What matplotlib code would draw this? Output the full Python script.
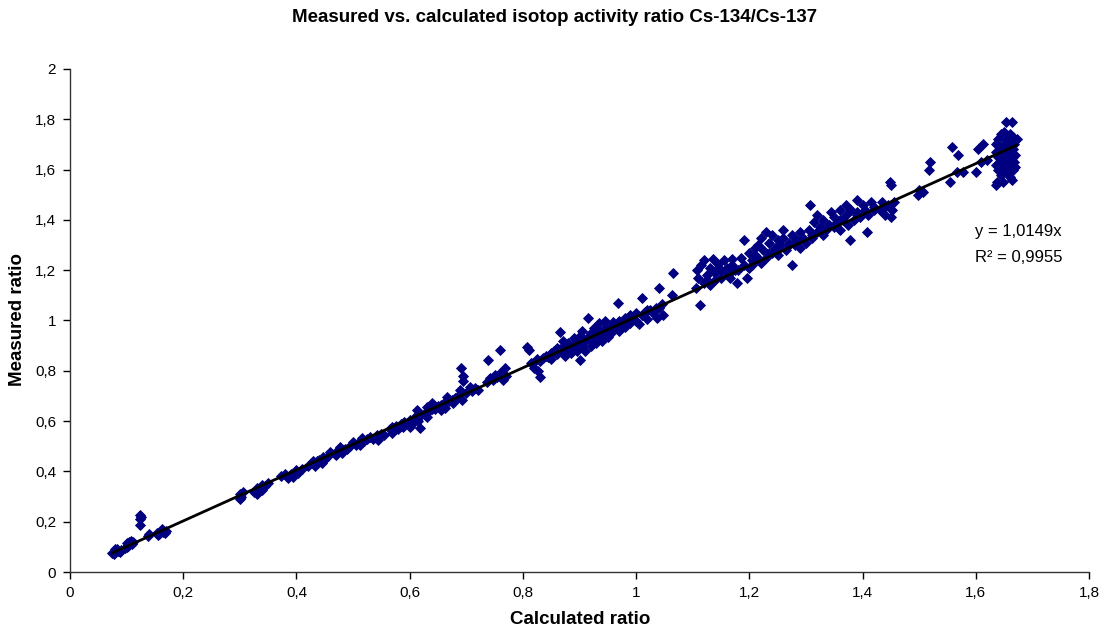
import matplotlib
matplotlib.use("Agg")
import matplotlib.pyplot as plt
from matplotlib.ticker import MultipleLocator, FuncFormatter

plt.rcParams['font.family'] = ['Liberation Sans', 'DejaVu Sans']

calc_ratio = [
    0.075, 0.08, 0.078, 0.085, 0.083, 0.088, 0.09, 0.08,
    0.097, 0.10, 0.103, 0.10, 0.105, 0.11, 0.108, 0.112,
    0.123, 0.125, 0.123, 0.124,
    0.137, 0.14, 0.153, 0.158, 0.16, 0.165, 0.168, 0.162, 0.17, 0.155,
    0.30, 0.30, 0.302, 0.305,
    0.325, 0.33, 0.335, 0.34, 0.345, 0.35, 0.33, 0.34,
    0.372, 0.38, 0.385, 0.39, 0.394, 0.40, 0.403, 0.41,
    0.42, 0.427, 0.433, 0.437, 0.44, 0.447, 0.45, 0.455, 0.459, 0.445,
    0.468, 0.472, 0.477, 0.48, 0.482, 0.49, 0.495, 0.50, 0.505, 0.51, 0.512, 0.515, 0.52,
    0.53, 0.535, 0.542, 0.544, 0.55, 0.555,
    0.565, 0.569, 0.569, 0.575, 0.58, 0.588, 0.59, 0.597, 0.60, 0.605, 0.61, 0.613, 0.618, 0.62, 0.60,
    0.625, 0.63, 0.63, 0.635, 0.64, 0.645, 0.65, 0.655, 0.66, 0.662, 0.666, 0.67, 0.677, 0.68,
    0.685, 0.689, 0.692, 0.69, 0.694, 0.695, 0.70, 0.706, 0.71, 0.715, 0.72,
    0.737, 0.739, 0.742, 0.747, 0.75, 0.755, 0.76, 0.76, 0.765, 0.768, 0.77,
    0.807, 0.81, 0.815, 0.818, 0.827, 0.83, 0.82, 0.825, 0.83, 0.835, 0.84,
    0.845, 0.85, 0.85, 0.855, 0.86, 0.86, 0.866, 0.87, 0.87, 0.875, 0.875, 0.88, 0.88, 0.885,
    0.89, 0.89, 0.895, 0.90, 0.90, 0.90,
    0.905, 0.905, 0.91, 0.91, 0.915, 0.915, 0.92, 0.92, 0.925, 0.925, 0.93, 0.93, 0.935, 0.935,
    0.94, 0.94, 0.945, 0.945, 0.95, 0.95, 0.955, 0.955,
    0.96, 0.96, 0.965, 0.968, 0.97, 0.97, 0.975, 0.98, 0.98, 0.985, 0.99, 0.99, 0.995, 1.00,
    1.00, 1.005, 1.01, 1.01, 1.015, 1.02, 1.025, 1.03, 1.037, 1.04, 1.04, 1.045, 1.048, 1.063, 1.065,
    1.105, 1.108, 1.11, 1.113, 1.115, 1.12, 1.12, 1.125, 1.13, 1.13, 1.135, 1.14, 1.14, 1.145,
    1.15, 1.15, 1.155, 1.16, 1.16, 1.165, 1.17, 1.175, 1.178, 1.17,
    1.18, 1.185, 1.19, 1.19, 1.195, 1.20, 1.20, 1.205, 1.21, 1.21, 1.215, 1.22, 1.22,
    1.225, 1.23, 1.23, 1.235, 1.24, 1.24, 1.245, 1.25, 1.25, 1.255, 1.26, 1.26, 1.265, 1.27,
    1.275, 1.275, 1.28, 1.285, 1.29, 1.29, 1.295, 1.30,
    1.305, 1.307, 1.31, 1.315, 1.32, 1.32, 1.325, 1.33, 1.33, 1.335, 1.34, 1.345, 1.35, 1.35,
    1.355, 1.36, 1.36, 1.365, 1.37, 1.375, 1.378, 1.37,
    1.38, 1.385, 1.39, 1.39, 1.395, 1.40, 1.405, 1.408, 1.41, 1.415, 1.42, 1.43, 1.435, 1.44,
    1.445, 1.45, 1.452, 1.455, 1.449, 1.45,
    1.498, 1.50, 1.507, 1.518, 1.52, 1.555, 1.558, 1.567, 1.569, 1.578, 1.60, 1.604, 1.613,
    1.61, 1.62, 1.637,
    1.654, 1.664, 1.636, 1.648, 1.664,
    1.635, 1.635, 1.635, 1.64, 1.64, 1.64, 1.645, 1.645, 1.645, 1.645, 1.65, 1.65, 1.65, 1.65,
    1.655, 1.655, 1.655, 1.655, 1.66, 1.66, 1.66, 1.66, 1.66, 1.665, 1.665, 1.665, 1.665,
    1.668, 1.668, 1.67, 1.67, 1.672,
    # extra points in the dense bands
    0.43, 0.47, 0.485, 0.525, 0.585, 0.615, 0.64, 0.655, 0.675, 0.683,
    0.865, 0.885, 0.895, 0.905, 0.918, 0.928, 0.938, 0.948, 0.958, 0.975, 0.988, 1.02, 1.035,
    1.125, 1.145, 1.165, 1.205, 1.215, 1.235, 1.25, 1.27, 1.28, 1.31, 1.34, 1.36, 1.39, 1.42, 1.44,
]
measured_ratio = [
    0.075, 0.08, 0.07, 0.085, 0.09, 0.08, 0.088, 0.092,
    0.095, 0.10, 0.105, 0.115, 0.12, 0.11, 0.125, 0.118,
    0.228, 0.218, 0.21, 0.187,
    0.145, 0.15, 0.155, 0.15, 0.165, 0.16, 0.155, 0.172, 0.165, 0.148,
    0.31, 0.29, 0.30, 0.318,
    0.32, 0.335, 0.33, 0.345, 0.34, 0.355, 0.31, 0.325,
    0.38, 0.39, 0.375, 0.39, 0.378, 0.405, 0.395, 0.41,
    0.42, 0.433, 0.42, 0.44, 0.445, 0.457, 0.45, 0.46, 0.477, 0.435,
    0.47, 0.48, 0.497, 0.475, 0.485, 0.49, 0.50, 0.517, 0.505, 0.515, 0.505, 0.533, 0.52,
    0.535, 0.53, 0.545, 0.525, 0.55, 0.545,
    0.57, 0.577, 0.553, 0.58, 0.57, 0.577, 0.595, 0.592, 0.605, 0.59, 0.615, 0.644, 0.573, 0.625, 0.575,
    0.63, 0.656, 0.616, 0.64, 0.672, 0.65, 0.66, 0.645, 0.67, 0.652, 0.696, 0.68, 0.672, 0.69,
    0.70, 0.724, 0.684, 0.81, 0.78, 0.76, 0.71, 0.736, 0.72, 0.73, 0.725,
    0.755, 0.843, 0.77, 0.763, 0.785, 0.775, 0.883, 0.79, 0.765, 0.81, 0.78,
    0.895, 0.883, 0.83, 0.83, 0.80, 0.776, 0.81, 0.845, 0.84, 0.85, 0.86,
    0.855, 0.87, 0.845, 0.88, 0.865, 0.89, 0.955, 0.92, 0.875, 0.90, 0.86, 0.885, 0.91, 0.87,
    0.90, 0.93, 0.88, 0.843, 0.915, 0.94,
    0.90, 0.96, 0.92, 0.88, 1.01, 0.935, 0.95, 0.90, 0.93, 0.97, 0.945, 0.91, 0.96, 0.99,
    0.95, 0.92, 0.97, 1.00, 0.96, 0.935, 0.98, 0.95,
    0.97, 0.995, 0.98, 1.07, 0.96, 1.00, 0.99, 0.975, 1.01, 1.00, 0.99, 1.02, 1.005, 1.00,
    1.03, 0.985, 1.02, 1.09, 1.035, 1.005, 1.04, 1.03, 1.01, 1.13, 1.05, 1.065, 1.02, 1.10, 1.19,
    1.13, 1.20, 1.17, 1.06, 1.22, 1.15, 1.24, 1.18, 1.21, 1.14, 1.245, 1.19, 1.16, 1.225,
    1.20, 1.17, 1.24, 1.19, 1.21, 1.17, 1.22, 1.20, 1.15, 1.245,
    1.20, 1.25, 1.32, 1.22, 1.17, 1.27, 1.21, 1.24, 1.29, 1.26, 1.30, 1.23, 1.33,
    1.28, 1.35, 1.25, 1.31, 1.27, 1.34, 1.29, 1.32, 1.26, 1.30, 1.33, 1.36, 1.28, 1.31,
    1.22, 1.34, 1.30, 1.32, 1.35, 1.29, 1.33, 1.31,
    1.36, 1.46, 1.33, 1.39, 1.35, 1.42, 1.37, 1.34, 1.40, 1.36, 1.38, 1.43, 1.37, 1.41,
    1.39, 1.36, 1.44, 1.40, 1.42, 1.38, 1.32, 1.46,
    1.44, 1.40, 1.48, 1.43, 1.41, 1.46, 1.44, 1.35, 1.42, 1.47, 1.45, 1.44, 1.47, 1.42,
    1.46, 1.41, 1.44, 1.47, 1.55, 1.54,
    1.50, 1.52, 1.51, 1.60, 1.63, 1.55, 1.69, 1.59, 1.66, 1.59, 1.59, 1.68, 1.70,
    1.63, 1.64, 1.55,
    1.79, 1.79, 1.54, 1.55, 1.56,
    1.62, 1.67, 1.70, 1.60, 1.65, 1.72, 1.58, 1.63, 1.68, 1.74, 1.61, 1.66, 1.70, 1.75,
    1.59, 1.64, 1.69, 1.72, 1.57, 1.62, 1.67, 1.71, 1.74, 1.60, 1.65, 1.68, 1.73,
    1.63, 1.70, 1.66, 1.61, 1.72,
    # extra points in the dense bands
    0.44, 0.465, 0.49, 0.53, 0.59, 0.60, 0.65, 0.665, 0.685, 0.69,
    0.885, 0.895, 0.92, 0.93, 0.925, 0.95, 0.94, 0.965, 0.975, 0.985, 1.00, 1.04, 1.05,
    1.16, 1.21, 1.19, 1.22, 1.25, 1.27, 1.29, 1.30, 1.31, 1.34, 1.38, 1.40, 1.42, 1.44, 1.45,
]

slope = 1.0149
r_squared = 0.9955
trend_x = [min(calc_ratio), max(calc_ratio)]

fig = plt.figure(figsize=(11.10, 6.31), dpi=100)
ax = fig.add_axes([70 / 1110, 59 / 631, 1019 / 1110, 503 / 631])

ax.plot(calc_ratio, measured_ratio, linestyle='none', marker='D', ms=5.0,
        mfc='#000080', mec='#000080', mew=0.6)
ax.plot(trend_x, [slope * v for v in trend_x], color='black', lw=2.0)

ax.set_xlim(0, 1.8)
ax.set_ylim(0, 2)
ax.xaxis.set_major_locator(MultipleLocator(0.2))
ax.yaxis.set_major_locator(MultipleLocator(0.2))
fmt = FuncFormatter(lambda v, p: f"{round(v, 2):g}".replace('.', ','))
ax.xaxis.set_major_formatter(fmt)
ax.yaxis.set_major_formatter(fmt)
ax.tick_params(direction='out', length=5, width=1, labelsize=11, colors='black')
ax.tick_params(axis='x', pad=5)
ax.tick_params(axis='y', pad=5)
for s in ['top', 'right']:
    ax.spines[s].set_visible(False)
for s in ['left', 'bottom']:
    ax.spines[s].set_linewidth(1)
    ax.spines[s].set_color('#333333')

ax.text(1.598, 1.352, "y = " + f"{slope:.4f}".replace('.', ',') + "x", fontsize=12, va='center', ha='left')
ax.text(1.598, 1.249, "R² = " + f"{r_squared:.4f}".replace('.', ','), fontsize=12, va='center', ha='left')

fig.text(0.5, 1 - 17 / 631, "Measured vs. calculated isotop activity ratio Cs-134/Cs-137",
         ha='center', va='center', fontsize=13.5, fontweight='bold')
fig.text(580 / 1110, 1 - 619 / 631, "Calculated ratio", ha='center', va='center',
         fontsize=13.5, fontweight='bold')
fig.text(18 / 1110, 1 - 320 / 631, "Measured ratio", ha='center', va='center',
         fontsize=13.5, fontweight='bold', rotation=90)

fig.savefig("out.png", dpi=100)
